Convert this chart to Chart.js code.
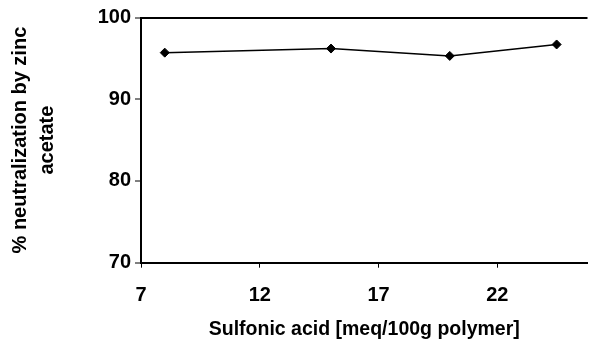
<!DOCTYPE html>
<html>
<head>
<meta charset="utf-8">
<script src="https://cdn.jsdelivr.net/npm/chart.js@4"></script>
<style>
  html, body { margin: 0; padding: 0; background: #fff; }
  canvas { display: block; }
</style>
</head>
<body>
<canvas id="c" width="593" height="344"></canvas>
<script>
const sulfonicAcid = [8, 15, 20, 24.5];
const neutralization = [95.7, 96.2, 95.3, 96.7];
const xTickValues = [7, 12, 17, 22];
const yTickValues = [70, 80, 90, 100];
const xTitle = 'Sulfonic acid [meq/100g polymer]';
const yTitle = ['% neutralization by zinc', 'acetate'];

const FONT = '"Liberation Sans", Arial, Helvetica, sans-serif';

new Chart(document.getElementById('c'), {
  type: 'scatter',
  data: {
    datasets: [{
      data: sulfonicAcid.map((x, i) => ({ x: x, y: neutralization[i] })),
      showLine: true,
      borderColor: '#000',
      borderWidth: 1.5,
      backgroundColor: '#000',
      pointStyle: 'rectRot',
      pointRadius: 4.5,
      pointBorderWidth: 1,
      pointBackgroundColor: '#000',
      pointBorderColor: '#000',
      tension: 0
    }]
  },
  options: {
    responsive: false,
    animation: false,
    events: [],
    layout: { padding: { top: 17.5, left: 0, right: 0, bottom: 0 } },
    plugins: { legend: { display: false }, tooltip: { enabled: false } },
    scales: {
      x: {
        type: 'linear',
        min: 7,
        max: 25.8,
        afterBuildTicks: (s) => { s.ticks = xTickValues.map(v => ({ value: v })); },
        afterFit: (s) => { s.height = 81.3; },
        border: { display: true, color: '#000', width: 2 },
        grid: { drawOnChartArea: false, drawTicks: true, tickLength: 5, tickColor: '#000', tickWidth: 1 },
        ticks: {
          color: '#000', padding: 16, maxRotation: 0,
          font: { family: FONT, size: 20, weight: 'bold' }
        },
        title: {
          display: true, text: xTitle, color: '#000',
          font: { family: FONT, size: 19.5, weight: 'bold' },
          padding: { top: 0, bottom: 3 }
        }
      },
      y: {
        type: 'linear',
        min: 70,
        max: 100,
        afterBuildTicks: (s) => { s.ticks = yTickValues.map(v => ({ value: v })); },
        afterFit: (s) => { s.width = 141; },
        border: { display: true, color: '#000', width: 2 },
        grid: {
          color: (ctx) => (ctx.tick && ctx.tick.value === 100) ? '#000' : 'rgba(0,0,0,0)',
          lineWidth: 2,
          drawTicks: true, tickLength: 6, tickColor: '#000', tickWidth: 1
        },
        ticks: {
          color: '#000', padding: 4,
          font: { family: FONT, size: 20, weight: 'bold' }
        },
        title: {
          display: true, text: yTitle, color: '#000',
          font: { family: FONT, size: 20, weight: 'bold', lineHeight: 1.35 },
          padding: { top: 7, bottom: 0 }
        }
      }
    }
  }
});
</script>
</body>
</html>
